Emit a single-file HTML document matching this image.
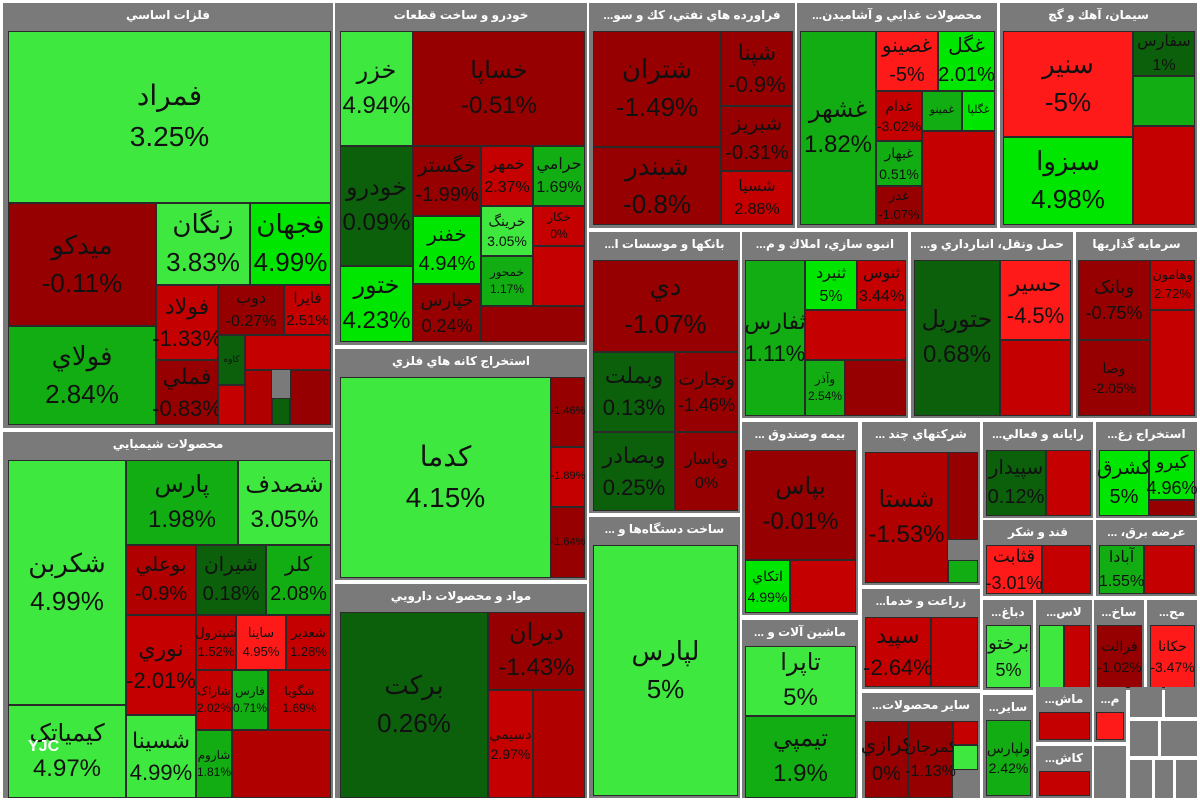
<!DOCTYPE html>
<html><head><meta charset="utf-8">
<style>
body{margin:0;width:1200px;height:800px;background:#fff;position:relative;overflow:hidden;font-family:"Liberation Sans","DejaVu Sans",sans-serif}
.s{position:absolute;background:#7a7a7a}
.s b{display:block;color:#fff;font-size:12px;text-align:center;line-height:24px;white-space:nowrap;overflow:hidden}
.c{position:absolute;box-sizing:border-box;border:1px solid #2a2a2a;display:flex;align-items:center;justify-content:center;text-align:center;color:#111;line-height:1.45;overflow:visible;white-space:nowrap}
.g1{background:#3ee83e}.g2{background:#00e600}.g3{background:#12ad12}.g4{background:#0c600c}
.r1{background:#970000}.r2{background:#c40000}.r3{background:#ff1a1a}.r4{background:#b00000}
</style></head><body>
<!-- فلزات اساسي -->
<div class="s" style="left:3px;top:3px;width:330px;height:425px"><b>فلزات اساسي</b></div>
<div class="c g1" style="left:8px;top:31px;width:323px;height:172px;font-size:28px">فمراد<br>3.25%</div>
<div class="c r1" style="left:8px;top:203px;width:148px;height:123px;font-size:26px">ميدکو<br>-0.11%</div>
<div class="c g3" style="left:8px;top:326px;width:148px;height:99px;font-size:26px">فولاي<br>2.84%</div>
<div class="c g1" style="left:156px;top:203px;width:94px;height:82px;font-size:26px">زنگان<br>3.83%</div>
<div class="c g2" style="left:250px;top:203px;width:81px;height:82px;font-size:26px">فجهان<br>4.99%</div>
<div class="c r2" style="left:156px;top:285px;width:62px;height:75px;font-size:22px">فولاد<br>-1.33%</div>
<div class="c r1" style="left:156px;top:360px;width:62px;height:65px;font-size:22px">فملي<br>-0.83%</div>
<div class="c r1" style="left:218px;top:285px;width:66px;height:50px;font-size:16px">دوب<br>-0.27%</div>
<div class="c r2" style="left:284px;top:285px;width:47px;height:50px;font-size:15px">فايرا<br>2.51%</div>
<div class="c g4" style="left:218px;top:335px;width:27px;height:50px;font-size:9px">کاوه</div>
<div class="c r2" style="left:245px;top:335px;width:86px;height:35px"></div>
<div class="c r2" style="left:218px;top:385px;width:27px;height:40px"></div>
<div class="c r4" style="left:245px;top:370px;width:27px;height:55px"></div>
<div class="c g4" style="left:272px;top:398px;width:18px;height:27px"></div>
<div class="c r1" style="left:290px;top:370px;width:41px;height:55px"></div>
<!-- محصولات شيميايي -->
<div class="s" style="left:3px;top:432px;width:330px;height:366px"><b>محصولات شيميايي</b></div>
<div class="c g1" style="left:8px;top:460px;width:118px;height:245px;font-size:26px">شکربن<br>4.99%</div>
<div class="c g1" style="left:8px;top:705px;width:118px;height:93px;font-size:24px">کيمياتک<br>4.97%</div>
<div class="c g3" style="left:126px;top:460px;width:112px;height:85px;font-size:24px">پارس<br>1.98%</div>
<div class="c g1" style="left:238px;top:460px;width:93px;height:85px;font-size:24px">شصدف<br>3.05%</div>
<div class="c r4" style="left:126px;top:545px;width:70px;height:70px;font-size:20px">بوعلي<br>-0.9%</div>
<div class="c g4" style="left:196px;top:545px;width:70px;height:70px;font-size:20px">شيران<br>0.18%</div>
<div class="c g3" style="left:266px;top:545px;width:65px;height:70px;font-size:20px">کلر<br>2.08%</div>
<div class="c r2" style="left:126px;top:615px;width:70px;height:100px;font-size:22px">نوري<br>-2.01%</div>
<div class="c g1" style="left:126px;top:715px;width:70px;height:83px;font-size:22px">شسينا<br>4.99%</div>
<div class="c r2" style="left:196px;top:615px;width:40px;height:55px;font-size:13px">شپترول<br>1.52%</div>
<div class="c r3" style="left:236px;top:615px;width:50px;height:55px;font-size:13px">ساينا<br>4.95%</div>
<div class="c r2" style="left:286px;top:615px;width:45px;height:55px;font-size:13px">شعدير<br>1.28%</div>
<div class="c r2" style="left:196px;top:670px;width:36px;height:60px;font-size:12px">شاراک<br>2.02%</div>
<div class="c g3" style="left:232px;top:670px;width:36px;height:60px;font-size:12px">فارس<br>0.71%</div>
<div class="c r2" style="left:268px;top:670px;width:63px;height:60px;font-size:12px">شگويا<br>1.69%</div>
<div class="c g3" style="left:196px;top:730px;width:36px;height:68px;font-size:12px">شاروم<br>1.81%</div>
<div class="c r4" style="left:232px;top:730px;width:99px;height:68px"></div>
<!-- خودرو -->
<div class="s" style="left:335px;top:3px;width:252px;height:342px"><b>خودرو و ساخت قطعات</b></div>
<div class="c g1" style="left:340px;top:31px;width:73px;height:115px;font-size:24px">خزر<br>4.94%</div>
<div class="c r1" style="left:413px;top:31px;width:172px;height:115px;font-size:24px">خساپا<br>-0.51%</div>
<div class="c g4" style="left:340px;top:146px;width:73px;height:120px;font-size:24px">خودرو<br>0.09%</div>
<div class="c g2" style="left:340px;top:266px;width:73px;height:76px;font-size:24px">ختور<br>4.23%</div>
<div class="c r1" style="left:413px;top:146px;width:68px;height:70px;font-size:20px">خگستر<br>-1.99%</div>
<div class="c r2" style="left:481px;top:146px;width:52px;height:60px;font-size:16px">خمهر<br>2.37%</div>
<div class="c g3" style="left:533px;top:146px;width:52px;height:60px;font-size:16px">حرامي<br>1.69%</div>
<div class="c g2" style="left:413px;top:216px;width:68px;height:68px;font-size:20px">خفنر<br>4.94%</div>
<div class="c r1" style="left:413px;top:284px;width:68px;height:58px;font-size:18px">خپارس<br>0.24%</div>
<div class="c g1" style="left:481px;top:206px;width:52px;height:50px;font-size:14px">خرينگ<br>3.05%</div>
<div class="c r2" style="left:533px;top:206px;width:52px;height:40px;font-size:12px">خکار<br>0%</div>
<div class="c g3" style="left:481px;top:256px;width:52px;height:50px;font-size:12px">خمحور<br>1.17%</div>
<div class="c r2" style="left:533px;top:246px;width:52px;height:60px"></div>
<div class="c r1" style="left:481px;top:306px;width:104px;height:36px"></div>
<!-- استخراج كانه -->
<div class="s" style="left:335px;top:349px;width:252px;height:231px"><b>استخراج كانه هاي فلزي</b></div>
<div class="c g1" style="left:340px;top:377px;width:211px;height:201px;font-size:28px">کدما<br>4.15%</div>
<div class="c r1" style="left:551px;top:377px;width:34px;height:70px;font-size:11px">-1.46%</div>
<div class="c r2" style="left:551px;top:447px;width:34px;height:60px;font-size:11px">-1.89%</div>
<div class="c r1" style="left:551px;top:507px;width:34px;height:71px;font-size:11px">-1.64%</div>
<!-- دارويي -->
<div class="s" style="left:335px;top:584px;width:252px;height:214px"><b>مواد و محصولات دارويي</b></div>
<div class="c g4" style="left:340px;top:612px;width:148px;height:186px;font-size:26px">برکت<br>0.26%</div>
<div class="c r1" style="left:488px;top:612px;width:97px;height:78px;font-size:24px">ديران<br>-1.43%</div>
<div class="c r2" style="left:488px;top:690px;width:45px;height:108px;font-size:14px">دسيمي<br>2.97%</div>
<div class="c r4" style="left:533px;top:690px;width:52px;height:108px"></div>
<!-- فراورده نفتي -->
<div class="s" style="left:589px;top:3px;width:206px;height:225px"><b>...فراورده هاي نفتي، كك و سو</b></div>
<div class="c r1" style="left:593px;top:31px;width:128px;height:116px;font-size:26px">شتران<br>-1.49%</div>
<div class="c r1" style="left:593px;top:147px;width:128px;height:78px;font-size:26px">شبندر<br>-0.8%</div>
<div class="c r1" style="left:721px;top:31px;width:72px;height:75px;font-size:22px">شپنا<br>-0.9%</div>
<div class="c r1" style="left:721px;top:106px;width:72px;height:65px;font-size:20px">شبريز<br>-0.31%</div>
<div class="c r2" style="left:721px;top:171px;width:72px;height:54px;font-size:16px">شسپا<br>2.88%</div>
<!-- غذايي -->
<div class="s" style="left:797px;top:3px;width:200px;height:225px"><b>...محصولات غذايي و آشاميدن</b></div>
<div class="c g3" style="left:800px;top:31px;width:76px;height:194px;font-size:24px">غشهر<br>1.82%</div>
<div class="c r3" style="left:876px;top:31px;width:62px;height:60px;font-size:20px">غصينو<br>-5%</div>
<div class="c g2" style="left:938px;top:31px;width:57px;height:60px;font-size:20px">غگل<br>2.01%</div>
<div class="c r2" style="left:876px;top:91px;width:46px;height:50px;font-size:14px">غدام<br>-3.02%</div>
<div class="c g3" style="left:922px;top:91px;width:40px;height:40px;font-size:11px">غمينو</div>
<div class="c g2" style="left:962px;top:91px;width:33px;height:40px;font-size:11px">غگلپا</div>
<div class="c g3" style="left:876px;top:141px;width:46px;height:45px;font-size:14px">غبهار<br>0.51%</div>
<div class="c r1" style="left:876px;top:186px;width:46px;height:39px;font-size:13px">غدر<br>-1.07%</div>
<div class="c r2" style="left:922px;top:131px;width:73px;height:94px"></div>
<!-- سيمان -->
<div class="s" style="left:1000px;top:3px;width:197px;height:225px"><b>سيمان، آهك و گچ</b></div>
<div class="c r3" style="left:1003px;top:31px;width:130px;height:106px;font-size:26px">سنير<br>-5%</div>
<div class="c g2" style="left:1003px;top:137px;width:130px;height:88px;font-size:26px">سبزوا<br>4.98%</div>
<div class="c g4" style="left:1133px;top:31px;width:62px;height:45px;font-size:16px">سفارس<br>1%</div>
<div class="c g3" style="left:1133px;top:76px;width:62px;height:50px"></div>
<div class="c r2" style="left:1133px;top:126px;width:62px;height:99px"></div>
<!-- بانكها -->
<div class="s" style="left:589px;top:232px;width:151px;height:281px"><b>...بانكها و موسسات ا</b></div>
<div class="c r1" style="left:593px;top:260px;width:145px;height:92px;font-size:26px">دي<br>-1.07%</div>
<div class="c g4" style="left:593px;top:352px;width:82px;height:80px;font-size:22px">وبملت<br>0.13%</div>
<div class="c g4" style="left:593px;top:432px;width:82px;height:79px;font-size:22px">وبصادر<br>0.25%</div>
<div class="c r1" style="left:675px;top:352px;width:63px;height:80px;font-size:18px">وتجارت<br>-1.46%</div>
<div class="c r1" style="left:675px;top:432px;width:63px;height:79px;font-size:16px">وپاسار<br>0%</div>
<!-- ساخت دستگاه -->
<div class="s" style="left:589px;top:517px;width:151px;height:281px"><b>... ساخت دستگاه‌ها و</b></div>
<div class="c g1" style="left:593px;top:545px;width:145px;height:251px;font-size:26px">لپارس<br>5%</div>
<!-- انبوه سازي -->
<div class="s" style="left:742px;top:232px;width:166px;height:186px"><b>...انبوه سازي، املاك و م</b></div>
<div class="c g3" style="left:745px;top:260px;width:60px;height:156px;font-size:22px">ثفارس<br>1.11%</div>
<div class="c g2" style="left:805px;top:260px;width:52px;height:50px;font-size:16px">ثنيرد<br>5%</div>
<div class="c r2" style="left:857px;top:260px;width:49px;height:50px;font-size:16px">ثنوس<br>3.44%</div>
<div class="c r2" style="left:805px;top:310px;width:101px;height:50px"></div>
<div class="c g3" style="left:805px;top:360px;width:40px;height:56px;font-size:12px">وآذر<br>2.54%</div>
<div class="c r1" style="left:845px;top:360px;width:61px;height:56px"></div>
<!-- حمل ونقل -->
<div class="s" style="left:911px;top:232px;width:162px;height:186px"><b>...حمل ونقل، انبارداري و</b></div>
<div class="c g4" style="left:914px;top:260px;width:86px;height:156px;font-size:24px">حتوريل<br>0.68%</div>
<div class="c r3" style="left:1000px;top:260px;width:71px;height:80px;font-size:22px">حسير<br>-4.5%</div>
<div class="c r2" style="left:1000px;top:340px;width:71px;height:76px"></div>
<!-- سرمايه گذاريها -->
<div class="s" style="left:1076px;top:232px;width:121px;height:186px"><b>سرمايه گذاريها</b></div>
<div class="c r1" style="left:1078px;top:260px;width:72px;height:80px;font-size:18px">وبانک<br>-0.75%</div>
<div class="c r2" style="left:1150px;top:260px;width:45px;height:50px;font-size:13px">وهامون<br>2.72%</div>
<div class="c r2" style="left:1150px;top:310px;width:45px;height:106px"></div>
<div class="c r1" style="left:1078px;top:340px;width:72px;height:76px;font-size:14px">وصا<br>-2.05%</div>
<!-- بيمه -->
<div class="s" style="left:742px;top:422px;width:116px;height:193px"><b>... بيمه وصندوق</b></div>
<div class="c r1" style="left:745px;top:450px;width:111px;height:110px;font-size:24px">بپاس<br>-0.01%</div>
<div class="c g2" style="left:745px;top:560px;width:45px;height:53px;font-size:14px">اتکاي<br>4.99%</div>
<div class="c r2" style="left:790px;top:560px;width:66px;height:53px"></div>
<!-- ماشين آلات -->
<div class="s" style="left:742px;top:620px;width:116px;height:178px"><b>... ماشين آلات و</b></div>
<div class="c g1" style="left:745px;top:646px;width:111px;height:70px;font-size:24px">تاپرا<br>5%</div>
<div class="c g3" style="left:745px;top:716px;width:111px;height:82px;font-size:24px">تيمپي<br>1.9%</div>
<!-- شركتهاي چند -->
<div class="s" style="left:862px;top:422px;width:118px;height:163px"><b>... شرکتهاي چند</b></div>
<div class="c r4" style="left:865px;top:452px;width:83px;height:131px;font-size:24px">شستا<br>-1.53%</div>
<div class="c r1" style="left:948px;top:452px;width:30px;height:88px"></div>
<div class="c g3" style="left:948px;top:560px;width:30px;height:23px"></div>
<!-- زراعت -->
<div class="s" style="left:862px;top:589px;width:118px;height:100px"><b>...زراعت و خدما</b></div>
<div class="c r2" style="left:865px;top:617px;width:66px;height:70px;font-size:22px">سپيد<br>-2.64%</div>
<div class="c r2" style="left:931px;top:617px;width:47px;height:70px"></div>
<!-- ساير محصولات -->
<div class="s" style="left:862px;top:693px;width:118px;height:105px"><b>...ساير محصولات</b></div>
<div class="c r1" style="left:865px;top:721px;width:43px;height:77px;font-size:20px">کرازي<br>0%</div>
<div class="c r1" style="left:908px;top:721px;width:45px;height:77px;font-size:16px">کمرجان<br>-1.13%</div>
<div class="c g1" style="left:953px;top:745px;width:25px;height:25px"></div>
<div class="c r2" style="left:953px;top:721px;width:25px;height:24px"></div>
<!-- رايانه -->
<div class="s" style="left:983px;top:422px;width:110px;height:96px"><b>...رايانه و فعالي</b></div>
<div class="c g4" style="left:986px;top:450px;width:60px;height:66px;font-size:20px">سپيدار<br>0.12%</div>
<div class="c r2" style="left:1046px;top:450px;width:45px;height:66px"></div>
<!-- استخراج زغ -->
<div class="s" style="left:1096px;top:422px;width:101px;height:96px"><b>...استخراج زغ</b></div>
<div class="c g2" style="left:1099px;top:450px;width:50px;height:66px;font-size:20px">کشرق<br>5%</div>
<div class="c g2" style="left:1149px;top:450px;width:46px;height:50px;font-size:18px">کيرو<br>4.96%</div>
<div class="c r1" style="left:1149px;top:500px;width:46px;height:16px"></div>
<!-- قند -->
<div class="s" style="left:983px;top:520px;width:110px;height:76px"><b>قند و شکر</b></div>
<div class="c r3" style="left:986px;top:545px;width:56px;height:49px;font-size:18px">قثابت<br>-3.01%</div>
<div class="c r2" style="left:1042px;top:545px;width:49px;height:49px"></div>
<!-- عرضه برق -->
<div class="s" style="left:1096px;top:520px;width:101px;height:76px"><b>... ،عرضه برق</b></div>
<div class="c g3" style="left:1099px;top:545px;width:45px;height:49px;font-size:16px">آبادا<br>1.55%</div>
<div class="c r2" style="left:1144px;top:545px;width:51px;height:49px"></div>
<!-- small ones -->
<div class="s" style="left:983px;top:600px;width:50px;height:90px"><b>...دباغ</b></div>
<div class="c g1" style="left:986px;top:625px;width:45px;height:63px;font-size:18px">برختو<br>5%</div>
<div class="s" style="left:1036px;top:600px;width:56px;height:90px"><b>...لاس</b></div>
<div class="c g1" style="left:1039px;top:625px;width:25px;height:63px"></div>
<div class="c r2" style="left:1064px;top:625px;width:26px;height:63px"></div>
<div class="s" style="left:1094px;top:600px;width:50px;height:90px"><b>...ساخ</b></div>
<div class="c r1" style="left:1097px;top:625px;width:45px;height:63px;font-size:14px">فرالت<br>-1.02%</div>
<div class="s" style="left:1147px;top:600px;width:50px;height:90px"><b>...مح</b></div>
<div class="c r3" style="left:1150px;top:625px;width:45px;height:63px;font-size:14px">حکانا<br>-3.47%</div>
<div class="s" style="left:983px;top:695px;width:50px;height:103px"><b>...ساير</b></div>
<div class="c g3" style="left:986px;top:720px;width:45px;height:76px;font-size:14px">ولپارس<br>2.42%</div>
<div class="s" style="left:1036px;top:687px;width:56px;height:55px"><b>...ماش</b></div>
<div class="c r2" style="left:1039px;top:712px;width:51px;height:28px"></div>
<div class="s" style="left:1036px;top:746px;width:56px;height:52px"><b>...كاش</b></div>
<div class="c r2" style="left:1039px;top:771px;width:51px;height:25px"></div>
<div class="s" style="left:1094px;top:687px;width:32px;height:55px"><b>...م</b></div>
<div class="c r3" style="left:1096px;top:712px;width:28px;height:28px"></div>
<div class="s" style="left:1094px;top:746px;width:32px;height:52px"></div>
<div class="s" style="left:1130px;top:687px;width:32px;height:30px"></div>
<div class="s" style="left:1165px;top:687px;width:32px;height:30px"></div>
<div class="s" style="left:1130px;top:721px;width:28px;height:35px"></div>
<div class="s" style="left:1161px;top:721px;width:36px;height:35px"></div>
<div class="s" style="left:1130px;top:760px;width:22px;height:38px"></div>
<div class="s" style="left:1155px;top:760px;width:18px;height:38px"></div>
<div class="s" style="left:1176px;top:760px;width:21px;height:38px"></div>
<div style="position:absolute;left:28px;top:738px;color:#fff;font-size:16px;font-weight:bold">YJC</div>
</body></html>
